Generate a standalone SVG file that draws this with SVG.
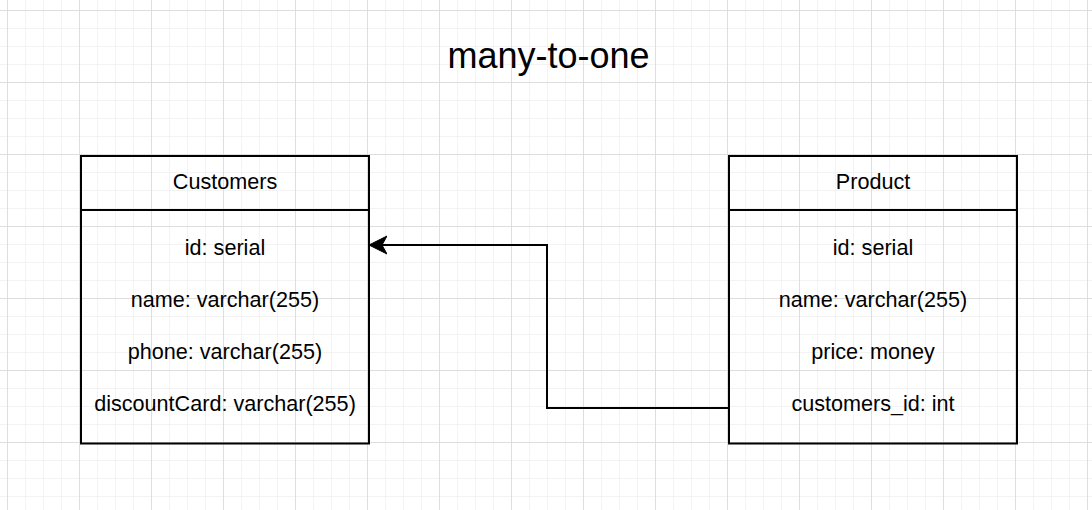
<svg xmlns="http://www.w3.org/2000/svg" width="1092" height="510" viewBox="0 0 1092 510">
<defs>
<pattern id="minor" x="7" y="10" width="18" height="18" patternUnits="userSpaceOnUse">
<path d="M0 0H18M0 0V18" fill="none" stroke="#f0f0f0" stroke-width="1.5"/>
</pattern>
<pattern id="major" x="7" y="10" width="72" height="72" patternUnits="userSpaceOnUse">
<path d="M0 0H72M0 0V72" fill="none" stroke="#d8d8d8" stroke-width="1.5"/>
</pattern>
<marker id="arrow" viewBox="0 0 20 20" refX="18" refY="10" markerWidth="20" markerHeight="20" markerUnits="userSpaceOnUse" orient="auto">
<path d="M18 10 L0 1 L5 10 L0 19 Z" fill="#000" stroke="#000" stroke-width="1"/>
</marker>
<style>
.box{fill:none;stroke:#000;stroke-width:2}
.t{font-family:"Liberation Sans",Arial,Helvetica,sans-serif;font-size:21.6px;fill:#000;text-anchor:middle}
.title{font-family:"Liberation Sans",Arial,Helvetica,sans-serif;font-size:36px;fill:#000;text-anchor:middle}
.edge{fill:none;stroke:#000;stroke-width:2}
</style>
</defs>
<rect width="1092" height="510" fill="#fff"/>
<rect width="1092" height="510" fill="url(#minor)"/>
<rect width="1092" height="510" fill="url(#major)"/>
<text class="title" x="548.5" y="68">many-to-one</text>
<g id="customers">
<rect class="box" x="81" y="156" width="288" height="287.5"/>
<line class="box" x1="81" y1="210" x2="369" y2="210"/>
<text class="t" x="225" y="189">Customers</text>
<text class="t" x="225" y="255">id: serial</text>
<text class="t" x="225" y="307">name: varchar(255)</text>
<text class="t" x="225" y="359">phone: varchar(255)</text>
<text class="t" x="225" y="411">discountCard: varchar(255)</text>
</g>
<g id="product">
<rect class="box" x="729" y="156" width="288" height="287.5"/>
<line class="box" x1="729" y1="210" x2="1017" y2="210"/>
<text class="t" x="873" y="189">Product</text>
<text class="t" x="873" y="255">id: serial</text>
<text class="t" x="873" y="307">name: varchar(255)</text>
<text class="t" x="873" y="359">price: money</text>
<text class="t" x="873" y="411">customers_id: int</text>
</g>
<g id="connectors">
<path class="edge" d="M729 408 H547 V245 H369" marker-end="url(#arrow)"/>
</g>
</svg>
